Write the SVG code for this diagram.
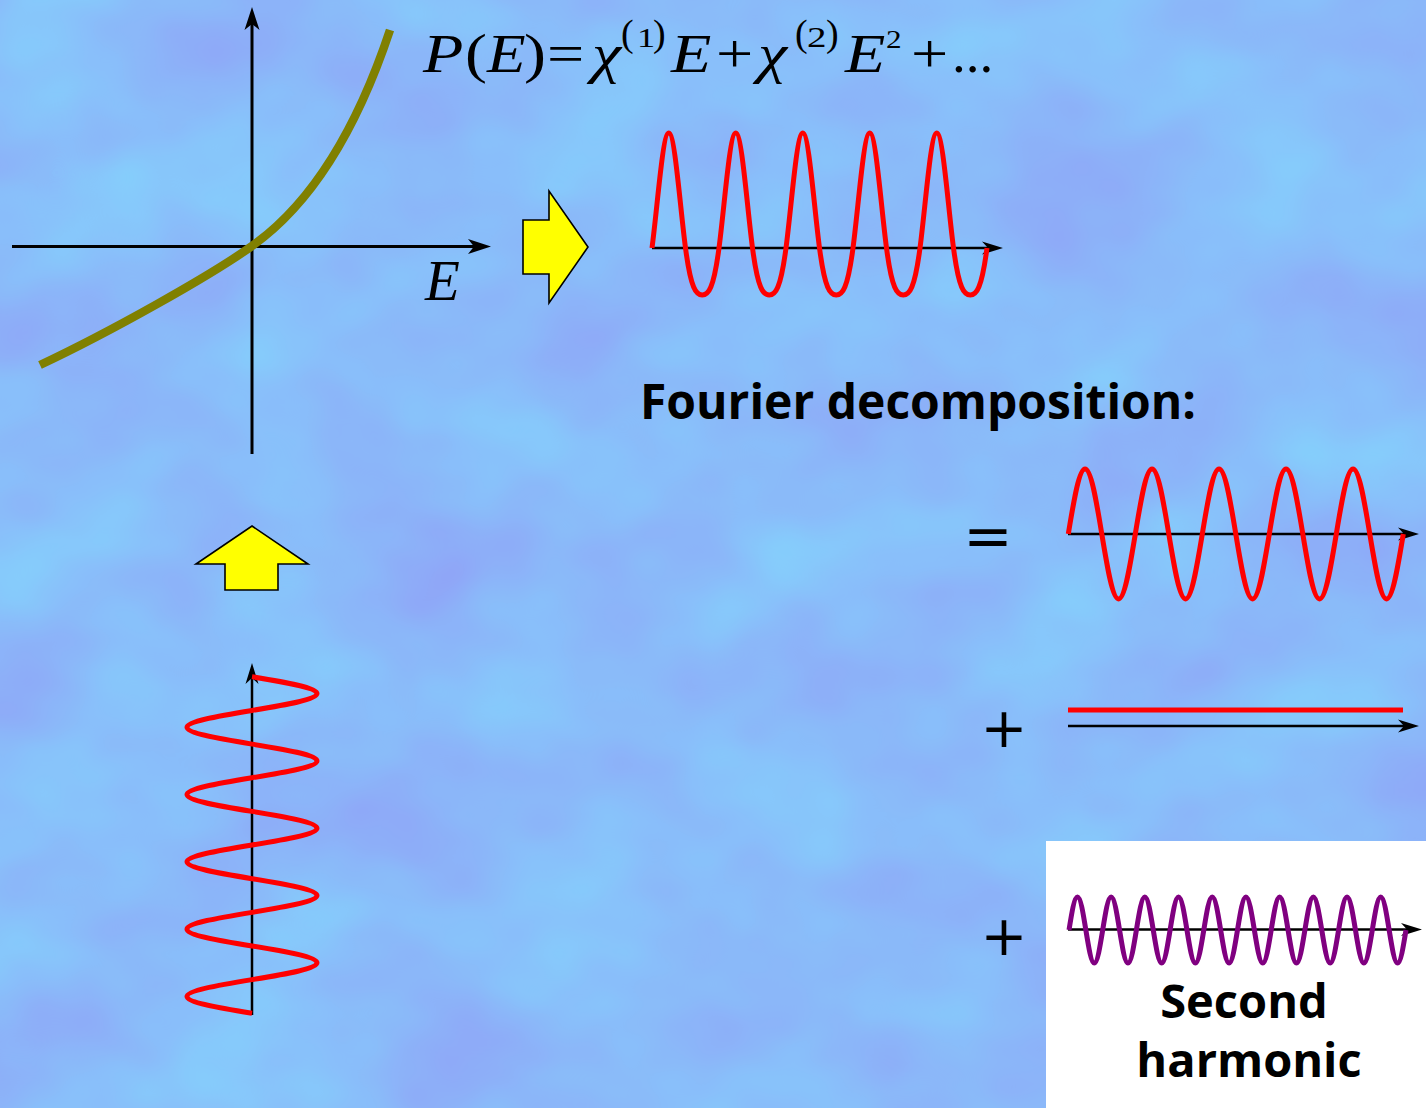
<svg xmlns="http://www.w3.org/2000/svg" width="1426" height="1108" viewBox="0 0 1426 1108">
<defs>
<style>
.ax{stroke:#000;stroke-width:2.5;fill:none}
.pax{stroke:#000;stroke-width:3;fill:none}
.red{stroke:#ff0000;stroke-width:5;fill:none}
.purple{stroke:#800080;stroke-width:5;fill:none}
.olive{stroke:#808000;stroke-width:8.5;fill:none}
.blk{fill:#000}
.yel{fill:#ffff00;stroke:#000;stroke-width:1.6;stroke-linejoin:miter}
.math{font-family:"Liberation Serif","Times New Roman",serif;fill:#000}
.it{font-style:italic}
.lbl{font-family:"Open Sans","Noto Sans",sans-serif;font-weight:700;fill:#000}
.sym{font-family:"DejaVu Sans",sans-serif;fill:#000}
</style>
<marker id="ahBig" markerUnits="userSpaceOnUse" markerWidth="30" markerHeight="20" viewBox="-14 -10 26 20" refX="0" refY="0" orient="auto">
<path d="M10,0 L-13,-7.5 L-7,0 L-13,7.5 Z" class="blk"/>
</marker>
<marker id="ah" markerUnits="userSpaceOnUse" markerWidth="26" markerHeight="16" viewBox="-15 -8 26 16" refX="0" refY="0" orient="auto">
<path d="M8,0 L-13,-6.5 L-7,0 L-13,6.5 Z" class="blk"/>
</marker>
<filter id="mottle" x="0" y="0" width="100%" height="100%" color-interpolation-filters="sRGB">
<feTurbulence type="fractalNoise" baseFrequency="0.006 0.008" numOctaves="3" seed="11"/>
<feColorMatrix type="matrix" values="-0.05 0 0 0 0.565  0.20 0 0 0 0.635  0.02 0 0 0 0.968  0 0 0 0 1"/>
</filter>
</defs>

<g id="background">
<rect x="0" y="0" width="1426" height="1108" fill="#8ab9fa"/>
<rect x="0" y="0" width="1426" height="1108" filter="url(#mottle)"/>
</g>

<g id="harmonic-box">
<rect x="1046" y="841" width="380" height="267" fill="#ffffff"/>
</g>

<g id="connectors">
<line class="pax" x1="12" y1="246.5" x2="481" y2="246.5" marker-end="url(#ahBig)"/>
<line class="pax" x1="252" y1="454" x2="252" y2="17" marker-end="url(#ahBig)"/>
<line class="ax" x1="652" y1="248" x2="995" y2="248" marker-end="url(#ah)"/>
<line class="ax" x1="1068" y1="534" x2="1411" y2="534" marker-end="url(#ah)"/>
<line class="ax" x1="1068" y1="726" x2="1411" y2="726" marker-end="url(#ah)"/>
<line class="ax" x1="1068" y1="929.5" x2="1414" y2="929.5" marker-end="url(#ah)"/>
<line class="ax" x1="252" y1="1015" x2="252" y2="671" marker-end="url(#ah)"/>
</g>

<g id="response-curve">
<path class="olive" d="M40,365 C110,332 210,276 252,246 C300,212 350,150 390,30"/>
</g>

<g id="equation">
<text class="math it" font-size="55" transform="translate(423,72) scale(1.2,1)">P</text>
<text class="math" font-size="55" transform="translate(465,72) scale(1.2,1)">(</text>
<text class="math it" font-size="55" transform="translate(487,72) scale(1.15,1)">E</text>
<text class="math" font-size="55" transform="translate(524,72) scale(1.2,1)">)</text>
<text class="math" font-size="55" transform="translate(547,72) scale(1.2,1)">=</text>
<text class="math it" font-size="55" transform="translate(592,72) scale(1.2,1)">χ</text>
<text class="math" font-size="38" x="621" y="46">(</text>
<text class="math" font-size="28" transform="translate(637,46.5) scale(1.3,1)">1</text>
<text class="math" font-size="38" x="653" y="46">)</text>
<text class="math it" font-size="55" transform="translate(671,72) scale(1.2,1)">E</text>
<text class="math" font-size="55" transform="translate(716,72) scale(1.2,1)">+</text>
<text class="math it" font-size="55" transform="translate(758,72) scale(1.2,1)">χ</text>
<text class="math" font-size="38" x="795" y="46">(</text>
<text class="math" font-size="30" transform="translate(807,46.5) scale(1.3,1)">2</text>
<text class="math" font-size="38" x="826" y="46">)</text>
<text class="math it" font-size="55" transform="translate(845,72) scale(1.2,1)">E</text>
<text class="math" font-size="26" transform="translate(886,48) scale(1.2,1)">2</text>
<text class="math" font-size="55" transform="translate(911,72) scale(1.2,1)">+</text>
<text class="math" font-size="55" x="952" y="72">...</text>
</g>

<g id="axis-label-E">
<text class="math it" font-size="57" x="425" y="300">E</text>
</g>

<g id="arrow-right">
<polygon class="yel" points="523,220 549,220 549,191 588,247 549,303 549,274 523,274"/>
</g>

<g id="arrow-up">
<polygon class="yel" points="252,526 308,564 278,564 278,590 225,590 225,564 196,564"/>
</g>

<g id="output-wave">
<path class="red" d="M652,248 c5.462,-41.5 10.688,-115 16.75,-115 c6.062,0 11.288,73.5 16.75,115 c5.462,41.5 10.688,47 16.75,47 c6.062,0 11.288,-5.5 16.75,-47
c5.462,-41.5 10.688,-115 16.75,-115 c6.062,0 11.288,73.5 16.75,115 c5.462,41.5 10.688,47 16.75,47 c6.062,0 11.288,-5.5 16.75,-47
c5.462,-41.5 10.688,-115 16.75,-115 c6.062,0 11.288,73.5 16.75,115 c5.462,41.5 10.688,47 16.75,47 c6.062,0 11.288,-5.5 16.75,-47
c5.462,-41.5 10.688,-115 16.75,-115 c6.062,0 11.288,73.5 16.75,115 c5.462,41.5 10.688,47 16.75,47 c6.062,0 11.288,-5.5 16.75,-47
c5.462,-41.5 10.688,-115 16.75,-115 c6.062,0 11.288,73.5 16.75,115 c5.462,41.5 10.688,47 16.75,47 c6.062,0 11.288,-5.5 16.75,-47"/>
</g>

<g id="fourier-title">
<text class="lbl" font-size="48" x="640" y="419">Fourier decomposition:</text>
</g>

<g id="equals-sign">
<text class="sym" font-size="59" x="988" y="556" text-anchor="middle">=</text>
</g>

<g id="fundamental-wave">
<path class="red" d="M1068.3,534 c5.462,-33.3 10.688,-65 16.75,-65 s11.288,31.7 16.75,65 s10.688,65 16.75,65 s11.288,-31.7 16.75,-65
s10.688,-65 16.75,-65 s11.288,31.7 16.75,65 s10.688,65 16.75,65 s11.288,-31.7 16.75,-65
s10.688,-65 16.75,-65 s11.288,31.7 16.75,65 s10.688,65 16.75,65 s11.288,-31.7 16.75,-65
s10.688,-65 16.75,-65 s11.288,31.7 16.75,65 s10.688,65 16.75,65 s11.288,-31.7 16.75,-65
s10.688,-65 16.75,-65 s11.288,31.7 16.75,65 s10.688,65 16.75,65 s11.288,-31.7 16.75,-65"/>
</g>

<g id="plus-dc">
<text class="sym" font-size="56" x="1004" y="747" text-anchor="middle">+</text>
</g>

<g id="dc-term">
<line class="red" x1="1068" y1="710" x2="1403" y2="710"/>
</g>

<g id="plus-second">
<text class="sym" font-size="56" x="1004" y="955" text-anchor="middle">+</text>
</g>

<g id="second-harmonic-wave">
<path class="purple" d="M1069,930 c2.747,-16.906 5.376,-33 8.425,-33 s5.678,16.094 8.425,33 s5.376,33 8.425,33 s5.678,-16.094 8.425,-33
s5.376,-33 8.425,-33 s5.678,16.094 8.425,33 s5.376,33 8.425,33 s5.678,-16.094 8.425,-33
s5.376,-33 8.425,-33 s5.678,16.094 8.425,33 s5.376,33 8.425,33 s5.678,-16.094 8.425,-33
s5.376,-33 8.425,-33 s5.678,16.094 8.425,33 s5.376,33 8.425,33 s5.678,-16.094 8.425,-33
s5.376,-33 8.425,-33 s5.678,16.094 8.425,33 s5.376,33 8.425,33 s5.678,-16.094 8.425,-33
s5.376,-33 8.425,-33 s5.678,16.094 8.425,33 s5.376,33 8.425,33 s5.678,-16.094 8.425,-33
s5.376,-33 8.425,-33 s5.678,16.094 8.425,33 s5.376,33 8.425,33 s5.678,-16.094 8.425,-33
s5.376,-33 8.425,-33 s5.678,16.094 8.425,33 s5.376,33 8.425,33 s5.678,-16.094 8.425,-33
s5.376,-33 8.425,-33 s5.678,16.094 8.425,33 s5.376,33 8.425,33 s5.678,-16.094 8.425,-33
s5.376,-33 8.425,-33 s5.678,16.094 8.425,33 s5.376,33 8.425,33 s5.678,-16.094 8.425,-33"/>
</g>

<g id="second-harmonic-label">
<text class="lbl" font-size="47" x="1244" y="1018" text-anchor="middle">Second</text>
<text class="lbl" font-size="47" x="1249" y="1077" text-anchor="middle">harmonic</text>
</g>

<g id="input-wave">
<path class="red" d="M252,1013.3 c-33.3,-5.487 -65,-10.736 -65,-16.825 s31.7,-11.338 65,-16.825 s65,-10.736 65,-16.825 s-31.7,-11.338 -65,-16.825
s-65,-10.736 -65,-16.825 s31.7,-11.338 65,-16.825 s65,-10.736 65,-16.825 s-31.7,-11.338 -65,-16.825
s-65,-10.736 -65,-16.825 s31.7,-11.338 65,-16.825 s65,-10.736 65,-16.825 s-31.7,-11.338 -65,-16.825
s-65,-10.736 -65,-16.825 s31.7,-11.338 65,-16.825 s65,-10.736 65,-16.825 s-31.7,-11.338 -65,-16.825
s-65,-10.736 -65,-16.825 s31.7,-11.338 65,-16.825 s65,-10.736 65,-16.825 s-31.7,-11.338 -65,-16.825"/>
</g>
</svg>
